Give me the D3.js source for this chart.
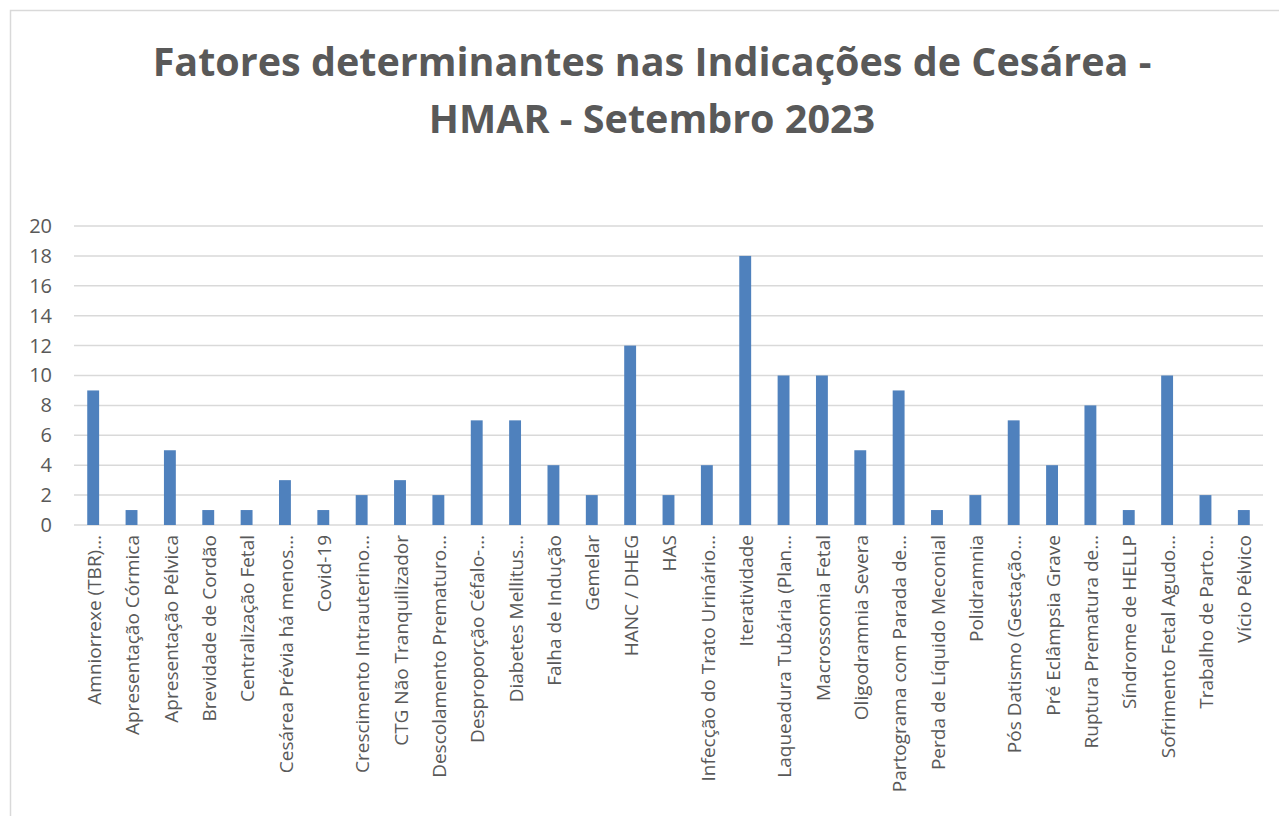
<!DOCTYPE html>
<html>
<head>
<meta charset="utf-8">
<script src="https://cdn.jsdelivr.net/npm/d3@7"></script>
<style>
  body { margin: 0; background: #fff; }
  text { font-family: 'Open Sans', sans-serif; }
</style>
</head>
<body>
<div id="chart"></div>
<script>
// categories, as they show on the axis (long ones cut with an ellipsis)
var categories = [
  'Amniorrexe (TBR)…', 'Apresentação Córmica', 'Apresentação Pélvica',
  'Brevidade de Cordão', 'Centralização Fetal', 'Cesárea Prévia há menos…',
  'Covid-19', 'Crescimento Intrauterino…', 'CTG Não Tranquilizador',
  'Descolamento Prematuro…', 'Desproporção Céfalo-…', 'Diabetes Mellitus…',
  'Falha de Indução', 'Gemelar', 'HANC / DHEG', 'HAS',
  'Infecção do Trato Urinário…', 'Iteratividade', 'Laqueadura Tubária (Plan…',
  'Macrossomia Fetal', 'Oligodramnia Severa', 'Partograma com Parada de…',
  'Perda de Líquido Meconial', 'Polidramnia', 'Pós Datismo (Gestação…',
  'Pré Eclâmpsia Grave', 'Ruptura Prematura de…', 'Síndrome de HELLP',
  'Sofrimento Fetal Agudo…', 'Trabalho de Parto…', 'Vício Pélvico'
]
var values = [9, 1, 5, 1, 1, 3, 1, 2, 3, 2, 7, 7, 4, 2, 12, 2, 4, 18, 10, 10, 5, 9, 1, 2, 7, 4, 8, 1, 10, 2, 1]
var yTicks = [0, 2, 4, 6, 8, 10, 12, 14, 16, 18, 20]
var titleLines = ['Fatores determinantes nas Indicações de Cesárea -', 'HMAR - Setembro 2023']

var width = 1279
var height = 816
var margin = { top: 226, left: 74, right: 16, bottom: 291 }

var svg = d3
  .select('#chart')
  .append('svg')
  .attr('width', width)
  .attr('height', height)

// chart frame (runs off the right and bottom of the picture)
svg.append('rect')
  .attr('x', 10.5)
  .attr('y', 10.5)
  .attr('width', 1400)
  .attr('height', 1000)
  .attr('fill', 'none')
  .attr('stroke', '#d9d9d9')
  .attr('stroke-width', 1.5)

svg.append('text')
  .attr('x', 652)
  .attr('y', 76)
  .attr('text-anchor', 'middle')
  .attr('fill', '#595959')
  .style('font-size', '39.5px')
  .style('font-weight', 'bold')
  .selectAll('tspan')
  .data(titleLines)
  .enter()
  .append('tspan')
  .attr('x', 652)
  .attr('dy', (d, i) => i === 0 ? 0 : 57)
  .text(d => d)

var x = d3.scaleBand()
  .domain(categories)
  .range([margin.left, width - margin.right])
  .paddingInner(0.69)
  .paddingOuter(0.345)

var y = d3.scaleLinear()
  .domain([0, 20])
  .range([height - margin.bottom, margin.top])

// gridlines
svg.append('g')
  .selectAll('line')
  .data(yTicks)
  .enter()
  .append('line')
  .attr('x1', margin.left)
  .attr('x2', width - margin.right)
  .attr('y1', d => y(d))
  .attr('y2', d => y(d))
  .attr('stroke', '#d9d9d9')
  .attr('stroke-width', 1.5)

var yAxis = svg.append('g')
  .attr('transform', 'translate(' + (margin.left - 22) + ',0)')
  .call(d3.axisLeft(y).tickValues(yTicks).tickSize(0).tickPadding(0))
yAxis.select('.domain').remove()
yAxis.selectAll('text')
  .attr('fill', '#595959')
  .style('font-size', '20px')
  .attr('font-family', null)

// bars
svg.append('g')
  .selectAll('rect')
  .data(values)
  .enter()
  .append('rect')
  .attr('x', (d, i) => x(categories[i]))
  .attr('y', d => y(d))
  .attr('width', x.bandwidth())
  .attr('height', d => y(0) - y(d))
  .attr('fill', '#4f81bd')

var xAxis = svg.append('g')
  .attr('transform', 'translate(0,' + y(0) + ')')
  .call(d3.axisBottom(x).tickSize(0).tickPadding(0))
xAxis.select('.domain').remove()
xAxis.selectAll('text')
  .attr('fill', '#595959')
  .style('font-size', '19px')
  .attr('font-family', null)
  .attr('text-anchor', 'end')
  .attr('dy', '0.35em')
  .attr('transform', 'translate(1,10) rotate(-90)')
  .attr('y', 0)
  .attr('x', 0)
</script>
</body>
</html>
